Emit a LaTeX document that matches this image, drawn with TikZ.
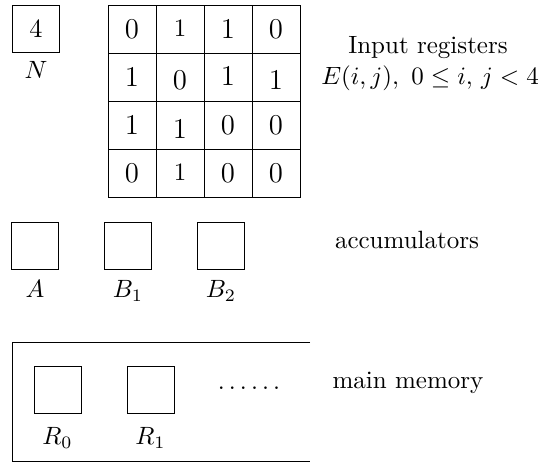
\documentclass[tikz,border=0pt]{standalone}
\usepackage{amsmath}
\usepackage{tikz}
\usetikzlibrary{positioning}

\begin{document}
\begin{tikzpicture}
	[x=0.4pt, y=-0.4pt, node distance={18pt}, thin,
	 reg/.style = {draw, minimum size=18.8pt, inner sep=0pt},
	 cell/.style = {draw, minimum size=19.2pt, inner sep=0pt, text height=7.2pt, text depth=0pt}]
	\useasboundingbox (0,0) rectangle (545,467);
	% input registers
	\node[reg] (N) at (36,29) {\fontsize{10.5}{13}\selectfont 4};
	\node (n) [below=0pt of N] {$N$};
	\foreach \row [count=\r from 0] in {{0/0/11.5,1/-2/10,1/0/11.5,0/0/11.5},{1/0/11.5,0/3/11.5,1/-1/11.5,1/3/11.5},{1/0/11.5,1/4/11.5,0/0/11.5,0/0/11.5},{0/0/11.5,1/-2/10,0/0/11.5,0/0/11.5}}
		\foreach \v/\dy/\fs [count=\c from 0] in \row
			\node[cell] (E\r\c) at (132+48*\c, 29+48*\r) {\fontsize{\fs}{13}\selectfont\raisebox{-\dy\dimexpr0.4pt\relax}{\v}};
	\node (inp) at (428,48) {Input registers};
	\node (ereg) at (430,78) {$E(i,j),\ 0\le i,\,j<4$};
	% accumulators
	\node[reg] (A) at (35,245.5) {};
	\node[reg] (B1) [right=of A] {};
	\node[reg] (B2) [right=of B1] {};
	\node (a) [below=1pt of A] {$A$};
	\node (b1) [below=1pt of B1] {$B_1$};
	\node (b2) [below=1pt of B2] {$B_2$};
	\node (acc) at (407,240) {accumulators};
	% main memory
	\draw (310,342) -| (12,461) -- (310,461);
	\node[reg] (R0) at (57.5,389.5) {};
	\node[reg] (R1) [right=of R0] {};
	\node (r0) [below=2pt of R0] {$R_0$};
	\node (r1) [below=2pt of R1] {$R_1$};
	\node (dots) at (249,388) {$\ldots\ldots$};
	\node (mem) at (408,383) {main memory};
\end{tikzpicture}
\end{document}
